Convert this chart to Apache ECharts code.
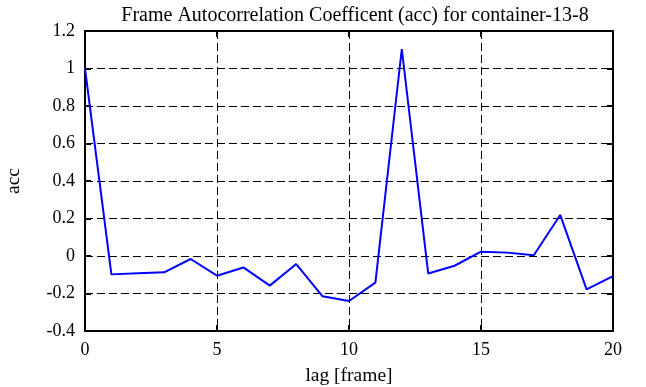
<!DOCTYPE html>
<html><head><meta charset="utf-8">
<script src="https://cdn.jsdelivr.net/npm/echarts@6/dist/echarts.min.js"></script>
<style>html,body{margin:0;padding:0;background:#fff}#c{width:646px;height:387px}</style>
</head><body><div id="c"></div>
<script>
const lags = [0,1,2,3,4,5,6,7,8,9,10,11,12,13,14,15,16,17,18,19,20];
const acc = [1.0,-0.098,-0.092,-0.087,-0.016,-0.105,-0.061,-0.158,-0.043,-0.215,-0.24,-0.142,1.104,-0.093,-0.052,0.023,0.018,0.004,0.219,-0.178,-0.107];
const titleText = 'Frame Autocorrelation Coefficent (acc) for container-13-8';
const xName = 'lag [frame]';
const yName = 'acc';

const font = 'Liberation Serif';
const chart = echarts.init(document.getElementById('c'), null, {renderer:'canvas'});
const axisLine = {show:true, onZero:false, lineStyle:{color:'#000', width:2}};
const tick = {show:true, inside:true, length:6, lineStyle:{color:'#000', width:2}};
const grid = {show:true, lineStyle:{color:'#000', type:[8,4], width:1}};
chart.setOption({
  animation:false,
  title:{text:titleText, left:350, textAlign:'center', top:1, textStyle:{fontFamily:font, fontWeight:'normal', fontSize:20, color:'#000'}},
  grid:{left:85, right:33, top:31, bottom:56, containLabel:false, outerBoundsMode:'none'},
  xAxis:[
    {type:'value', min:0, max:20, interval:5, position:'bottom',
     name:xName, nameLocation:'middle', nameGap:35, nameTextStyle:{fontFamily:font, fontSize:19.5, color:'#000'},
     axisLine:axisLine, axisTick:tick,
     axisLabel:{fontFamily:font, fontSize:18, color:'#000', margin:10},
     splitLine:grid},
    {type:'value', min:0, max:20, interval:5, position:'top',
     axisLine:axisLine, axisTick:tick, axisLabel:{show:false}, splitLine:{show:false}}
  ],
  yAxis:[
    {type:'value', min:-0.4, max:1.2, interval:0.2, position:'left',
     name:yName, nameLocation:'middle', nameGap:61, nameRotate:90, nameTextStyle:{fontFamily:font, fontSize:19.5, color:'#000'},
     axisLine:axisLine, axisTick:tick,
     axisLabel:{fontFamily:font, fontSize:18, color:'#000', margin:10, formatter:v=>{const r=Math.round(v*10)/10; return r===0?'0':String(r);}},
     splitLine:grid},
    {type:'value', min:-0.4, max:1.2, interval:0.2, position:'right',
     axisLine:axisLine, axisTick:tick, axisLabel:{show:false}, splitLine:{show:false}}
  ],
  series:[{type:'line', data:lags.map((l,i)=>[l,acc[i]]), showSymbol:false, symbol:'none',
    lineStyle:{color:'#0000ff', width:2}, xAxisIndex:0, yAxisIndex:0}]
});
</script></body></html>
